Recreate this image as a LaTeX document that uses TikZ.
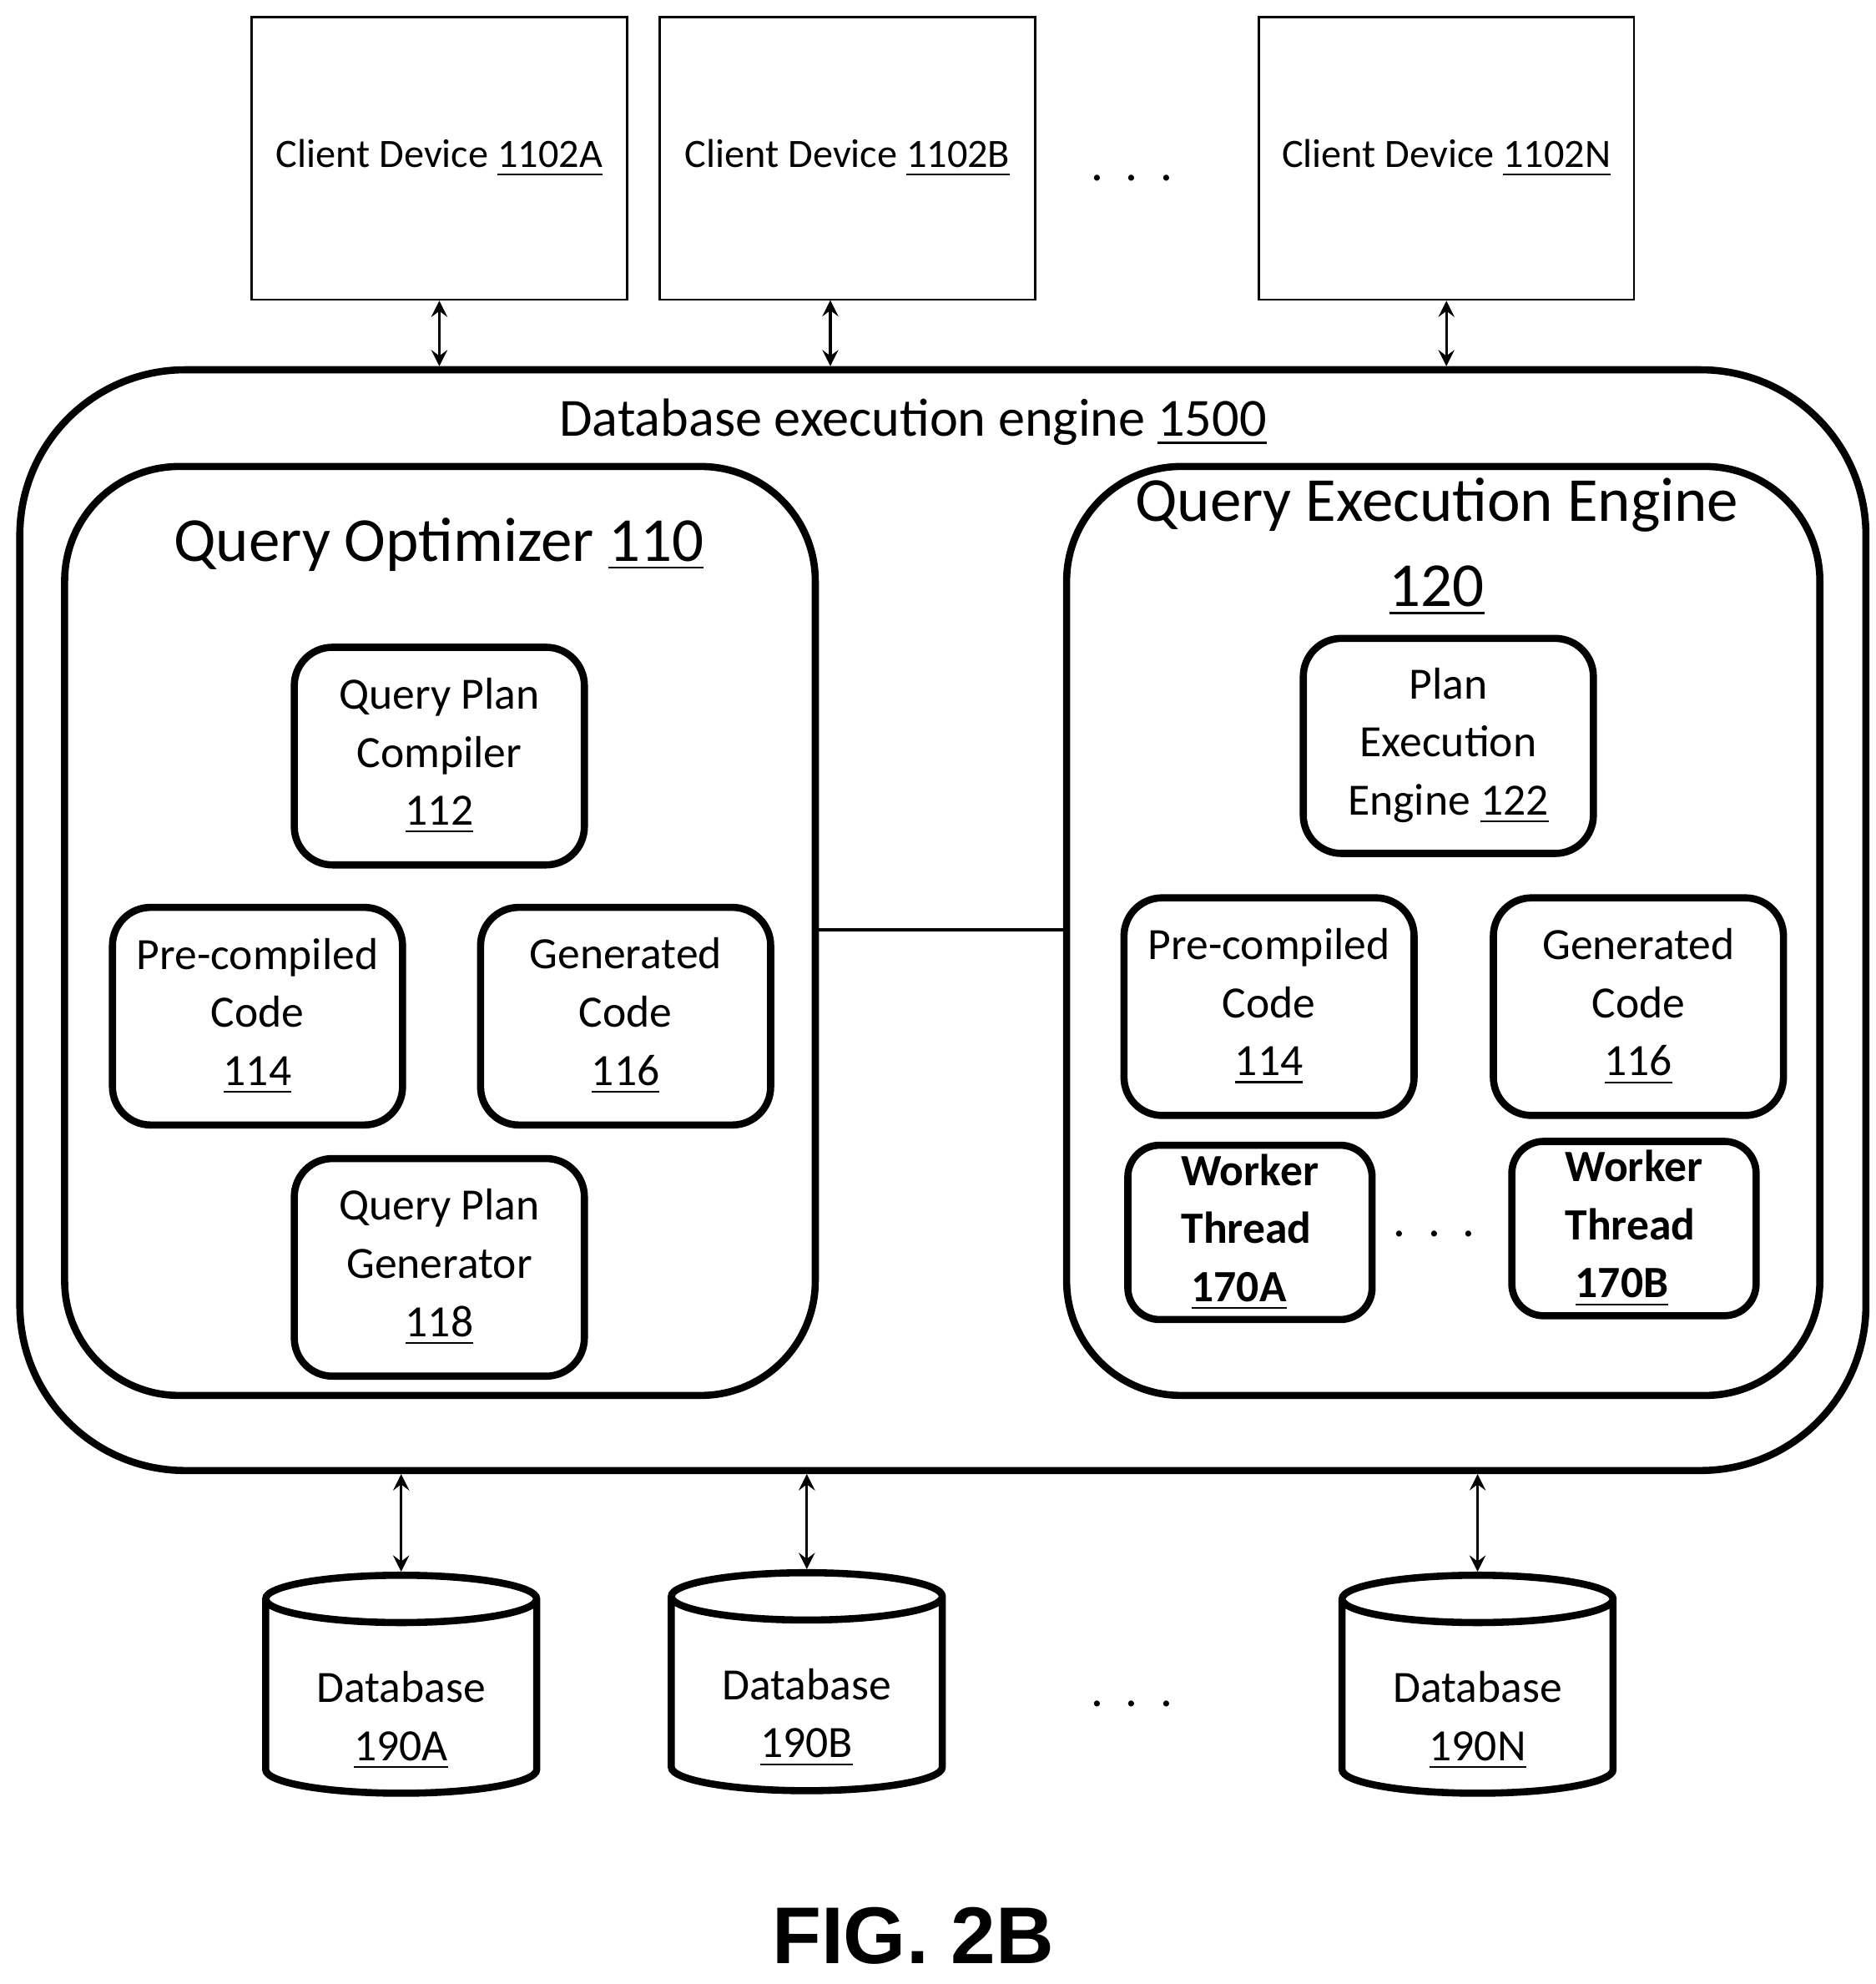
\documentclass[tikz,border=0pt]{standalone}
\usepackage{fontspec}
\setmainfont{Carlito}
\newfontfamily\figfont{Liberation Sans}
\usetikzlibrary{shapes.geometric}
\begin{document}
\begin{tikzpicture}[x=0.01cm,y=-0.01cm,
 client/.style={draw,line width=0.5pt,minimum width=2.95cm,minimum height=2.22cm,inner sep=0pt,font=\fontsize{9}{11}\selectfont},
 big/.style={draw,line width=1.6pt,rounded corners=0.9cm},
 small/.style={draw,line width=1.6pt,rounded corners=0.3cm,minimum width=2.28cm,minimum height=1.71cm,align=center,inner sep=0pt,font=\fontsize{10}{13}\selectfont},
 worker/.style={draw,line width=1.6pt,rounded corners=0.25cm,minimum width=1.92cm,minimum height=1.37cm,align=left,inner sep=0pt,font=\bfseries\fontsize{10}{13}\selectfont},
 db/.style={draw,line width=1.6pt,cylinder,shape border rotate=90,aspect=0.28,minimum width=2.13cm,minimum height=1.7cm,align=center,inner sep=0pt,font=\fontsize{10}{13}\selectfont},
 arr/.style={<->,>=stealth,line width=0.6pt}]
\useasboundingbox (0,0) rectangle (1475,1560);
\node[client] (ca) at (345.5,124.5) {Client Device \underline{1102A}};
\node[client] (cb) at (666.5,124.5) {Client Device \underline{1102B}};
\node[client] (cn) at (1137.5,124.5) {Client Device \underline{1102N}};
\node (dots1) at (890,140) {\fontsize{11}{13}\selectfont .\ \ .\ \ .};
\node[big,rounded corners=1.3cm,minimum width=14.51cm,minimum height=8.65cm] (outer) at (741.5,723.5) {};
\node[font=\fontsize{12}{14}\selectfont] (ttl) at (718,332) {Database execution engine \underline{1500}};
\draw[arr] (ca.south) -- (ca.south |- outer.north);
\draw[arr] (653,236) coordinate (cbb) -- (cbb |- outer.north);
\draw[arr] (cn.south) -- (cn.south |- outer.north);
\node[big,minimum width=5.9cm,minimum height=7.3cm] (qo) at (346,732) {};
\node[font=\fontsize{14}{16}\selectfont] at (345,428) {Query Optimizer \underline{110}};
\node[big,minimum width=5.92cm,minimum height=7.3cm] (qe) at (1135,732) {};
\node[font=\fontsize{14}{19}\selectfont,align=center] at (1130,430) {Query Execution Engine\\\underline{120}};
\draw[line width=0.8pt] (qo.east |- 0,731) -- (qe.west |- 0,731);
\node[small] (qpc) at (345.5,594.5) {Query Plan\\Compiler\\\underline{112}};
\node[small] (pc1) at (202.5,799) {Pre-compiled\\Code\\\underline{114}};
\node[small] (gc1) at (492,799) {Generated\\Code\\\underline{116}};
\node[small] (qpg) at (345.5,996.5) {Query Plan\\Generator\\\underline{118}};
\node[small,minimum height=1.69cm] (pee) at (1139,586.5) {Plan\\Execution\\Engine \underline{122}};
\node[small] (pc2) at (998,791.5) {Pre-compiled\\Code\\\underline{114}};
\node[small] (gc2) at (1288.5,791.5) {Generated\\Code\\\underline{116}};
\node[worker] (wa) at (983,969) {Worker\\Thread\\\ \underline{170A}};
\node[worker] (wb) at (1285,966) {Worker\\Thread\\\ \underline{170B}};
\node (dots2) at (1128,970) {\fontsize{11}{13}\selectfont .\ \ .\ \ .};
\node[db] (da) at (315.5,1335) {\\[4pt]Database\\\underline{190A}};
\node[db] (dbb) at (634.5,1333) {\\[4pt]Database\\\underline{190B}};
\node[db] (dn) at (1162,1335) {\\[4pt]Database\\\underline{190N}};
\node (dots3) at (890,1340) {\fontsize{11}{13}\selectfont .\ \ .\ \ .};
\draw[arr] (da.north |- outer.south) -- (da.north);
\draw[arr] (dbb.north |- outer.south) -- (dbb.north);
\draw[arr] (dn.north |- outer.south) -- (dn.north);
\node[font=\figfont\bfseries\fontsize{18}{21}\selectfont] (fig) at (718,1522) {FIG. 2B};
\end{tikzpicture}
\end{document}
